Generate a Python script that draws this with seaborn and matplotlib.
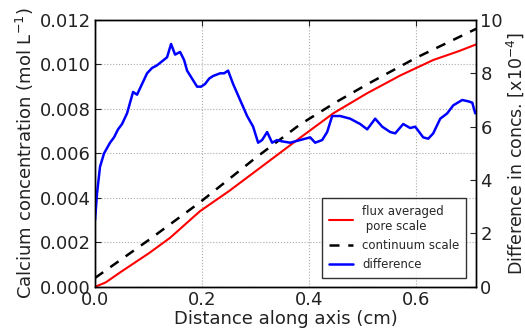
import numpy as np
import pandas as pd
import matplotlib
matplotlib.use("Agg")
import matplotlib.pyplot as plt
import seaborn as sns

# Distance along axis (cm) and concentrations (mol/L)
x_pore = [0.0, 0.02, 0.05, 0.10, 0.14, 0.196, 0.25, 0.30, 0.383, 0.445, 0.508, 0.570, 0.632, 0.68, 0.712]
c_pore = [0.0, 0.0002, 0.0007, 0.0015, 0.0022, 0.0034, 0.0043, 0.0052, 0.0067, 0.0078, 0.0087, 0.0095, 0.0102, 0.0106, 0.0109]

x_cont = [0.0, 0.1, 0.196, 0.3, 0.383, 0.45, 0.508, 0.6, 0.712]
c_cont = [0.0004, 0.0021, 0.0038, 0.0058, 0.0073, 0.0083, 0.0091, 0.0103, 0.0116]

# Difference (x1e-4), traced
x_diff_px = [95, 97, 100, 104, 110, 114, 118, 122, 127, 133, 137, 142, 147, 152, 157, 162, 167, 171, 175, 180, 184, 187,
             192, 197, 201, 205, 209, 213, 220, 224, 228, 233, 240, 247, 253, 258, 262, 267, 272, 277, 282, 290,
             300, 310, 315, 322, 327, 332, 340, 350, 360, 367, 375, 382, 390, 395, 403, 410, 415, 423, 428, 433,
             440, 447, 453, 462, 468, 472, 475]
diff = [2.5, 3.5, 4.5, 5.0, 5.4, 5.6, 5.9, 6.1, 6.5, 7.3, 7.2, 7.6, 8.0, 8.2, 8.3, 8.45, 8.6, 9.1, 8.7, 8.8, 8.5, 8.1,
        7.8, 7.5, 7.5, 7.6, 7.8, 7.9, 8.0, 8.0, 8.1, 7.6, 7.0, 6.4, 6.0, 5.4, 5.5, 5.8, 5.4, 5.5, 5.45, 5.4,
        5.5, 5.6, 5.4, 5.5, 5.8, 6.4, 6.4, 6.3, 6.1, 5.9, 6.3, 6.0, 5.8, 5.75, 6.1, 5.95, 6.0, 5.6, 5.55, 5.75,
        6.3, 6.5, 6.8, 7.0, 6.95, 6.9, 6.5]
x_diff = [(p - 95) / 535.0 for p in x_diff_px]

xticks = [0.0, 0.2, 0.4, 0.6]
yticks_left = [0.000, 0.002, 0.004, 0.006, 0.008, 0.010, 0.012]
yticks_right = [0, 2, 4, 6, 8, 10]

sns.set_style("white")
plt.rcParams['font.family'] = ['DejaVu Sans']

fig = plt.figure(figsize=(5.25, 3.32), dpi=100)
ax = fig.add_axes([0.181, 0.136, 0.726, 0.804])

df_p = pd.DataFrame({"x": x_pore, "y": c_pore})
df_c = pd.DataFrame({"x": x_cont, "y": c_cont})
df_d = pd.DataFrame({"x": x_diff, "y": diff})

sns.lineplot(data=df_p, x="x", y="y", ax=ax, color="red", lw=1.5, label="flux averaged\n pore scale", legend=False)
sns.lineplot(data=df_c, x="x", y="y", ax=ax, color="black", lw=1.8, label="continuum scale", legend=False)
ax.lines[-1].set_dashes([4, 3.5])

ax2 = ax.twinx()
sns.lineplot(data=df_d, x="x", y="y", ax=ax2, color="blue", lw=1.8, label="difference", legend=False)

ax.set_xlim(0, 0.712)
ax.set_ylim(0, 0.012)
ax2.set_ylim(0, 10)
ax.set_xticks(xticks)
ax.set_xticklabels([f"{t:.1f}" for t in xticks])
ax.set_yticks(yticks_left)
ax.set_yticklabels([f"{t:.3f}" for t in yticks_left])
ax2.set_yticks(yticks_right)

ax.grid(True, color="#aaaaaa", linestyle=":", linewidth=0.8)
ax.set_axisbelow(True)
ax.tick_params(direction="in", labelsize=13, length=4, top=True, pad=3, colors="#222222", labelcolor="#222222")
ax2.tick_params(direction="in", labelsize=13, length=4, pad=3, colors="#222222", labelcolor="#222222")

ax.set_xlabel("Distance along axis (cm)", fontsize=13, labelpad=1, color="#222222")
ax.set_ylabel("Calcium concentration (mol L$^{-1}$)", fontsize=13, labelpad=3, color="#222222")
ax2.set_ylabel("Difference in concs. [x10$^{-4}$]", fontsize=12.5, labelpad=1, color="#222222")

for a in (ax, ax2):
    for s in a.spines.values():
        s.set_color("black")
        s.set_linewidth(1.0)

h1, l1 = ax.get_legend_handles_labels()
h2, l2 = ax2.get_legend_handles_labels()
leg = ax2.legend(h1 + h2, l1 + l2, loc="lower right", fontsize=8.5, frameon=True,
                 fancybox=False, edgecolor="black", handlelength=2.0, borderpad=0.6,
                 bbox_to_anchor=(0.99, 0.01))
leg.get_frame().set_linewidth(1.0)

fig.savefig("out.png", dpi=100)
